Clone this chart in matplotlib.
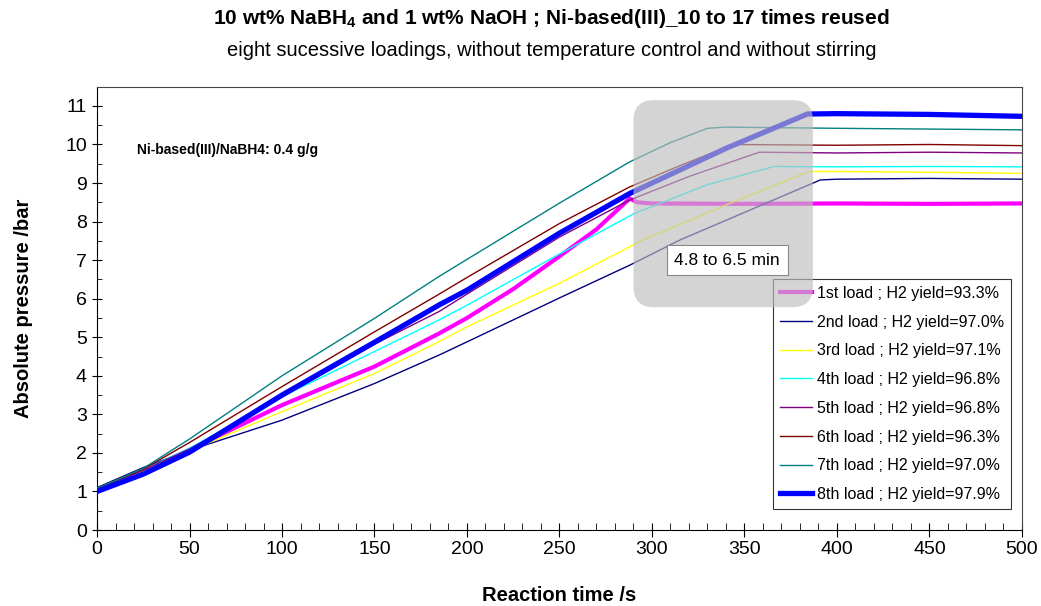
import numpy as np
import matplotlib
matplotlib.use('Agg')
import matplotlib.pyplot as plt
from matplotlib.patches import FancyBboxPatch
from matplotlib.ticker import MultipleLocator

plt.rcParams['font.family'] = ['Liberation Sans', 'DejaVu Sans']
plt.rcParams['mathtext.fontset'] = 'custom'
plt.rcParams['mathtext.rm'] = 'Liberation Sans'
plt.rcParams['mathtext.bf'] = 'Liberation Sans:bold'

# pressure (bar) vs reaction time (s)
t1 = [0, 25, 50, 100, 150, 185, 200, 225, 250, 270, 288, 292, 300, 350, 400, 450, 500]
p1 = [1.05, 1.52, 2.08, 3.24, 4.24, 5.10, 5.50, 6.25, 7.10, 7.80, 8.60, 8.50, 8.47, 8.46, 8.47, 8.46, 8.47]

t2 = [0, 25, 50, 100, 150, 185, 200, 250, 288, 315, 391, 400, 450, 500]
p2 = [1.10, 1.62, 2.07, 2.85, 3.80, 4.54, 4.88, 6.02, 6.87, 7.52, 9.08, 9.10, 9.12, 9.10]

t3 = [0, 25, 50, 100, 150, 185, 200, 250, 295, 340, 385, 400, 450, 500]
p3 = [1.07, 1.52, 2.05, 3.07, 4.06, 4.89, 5.27, 6.40, 7.52, 8.43, 9.30, 9.30, 9.28, 9.25]

t4 = [0, 25, 50, 100, 150, 185, 200, 250, 290, 330, 366, 400, 450, 500]
p4 = [1.08, 1.56, 2.12, 3.46, 4.63, 5.45, 5.83, 7.16, 8.20, 8.96, 9.43, 9.42, 9.43, 9.42]

t5 = [0, 25, 50, 100, 150, 185, 200, 250, 288, 320, 358, 400, 450, 500]
p5 = [1.07, 1.55, 2.10, 3.45, 4.82, 5.67, 6.12, 7.60, 8.56, 9.17, 9.80, 9.78, 9.80, 9.78]

t6 = [0, 25, 50, 100, 150, 185, 200, 250, 288, 315, 344, 400, 450, 500]
p6 = [1.08, 1.58, 2.27, 3.72, 5.14, 6.12, 6.55, 7.95, 8.90, 9.45, 10.00, 9.98, 10.00, 9.97]

t7 = [0, 25, 50, 100, 150, 185, 200, 250, 288, 310, 330, 340, 400, 450, 500]
p7 = [1.08, 1.60, 2.36, 4.00, 5.49, 6.58, 7.02, 8.48, 9.55, 10.05, 10.42, 10.45, 10.42, 10.40, 10.38]

t8 = [0, 25, 50, 100, 150, 185, 200, 250, 288, 340, 384, 400, 450, 500]
p8 = [1.00, 1.45, 2.02, 3.50, 4.87, 5.84, 6.22, 7.70, 8.73, 9.90, 10.79, 10.80, 10.78, 10.73]

labels = ['1st load ; H2 yield=93.3%', '2nd load ; H2 yield=97.0%',
          '3rd load ; H2 yield=97.1%', '4th load ; H2 yield=96.8%',
          '5th load ; H2 yield=96.8%', '6th load ; H2 yield=96.3%',
          '7th load ; H2 yield=97.0%', '8th load ; H2 yield=97.9%']

series = [(t1, p1), (t2, p2), (t3, p3), (t4, p4), (t5, p5), (t6, p6), (t7, p7), (t8, p8)]
colors = ['#FF00FF', '#000080', '#FFFF00', '#00FFFF', '#800080', '#800000', '#008080', '#0000FF']
widths = [3.0, 1.0, 1.0, 1.0, 1.0, 1.0, 1.0, 3.8]

fig = plt.figure(figsize=(10.41, 6.06), dpi=100)
ax = fig.add_axes([0.0932, 0.1254, 0.8885, 0.7316])

for (t, p), c, w, lab in zip(series, colors, widths, labels):
    ax.plot(t, p, color=c, lw=w, label=lab, zorder=3)

ax.set_xlim(0, 500)
ax.set_ylim(0, 11.5)
ax.xaxis.set_major_locator(MultipleLocator(50))
ax.xaxis.set_minor_locator(MultipleLocator(10))
ax.set_yticks(np.arange(0, 12, 1))
ax.yaxis.set_minor_locator(MultipleLocator(0.5))
ax.tick_params(axis='x', which='major', direction='inout', length=10, labelsize=14, pad=3)
ax.tick_params(axis='x', which='minor', direction='in', length=5)
ax.tick_params(axis='y', which='major', direction='inout', length=7.5, labelsize=14)
ax.tick_params(axis='y', which='minor', direction='in', length=3.6)
for s in ['top', 'right']:
    ax.spines[s].set_color('#444444')

ax.set_xlabel('Reaction time /s', fontsize=14.5, fontweight='bold')
ax.set_ylabel('Absolute pressure /bar', fontsize=14.5, fontweight='bold')
ax.xaxis.set_label_coords(0.5, -0.126)
ax.yaxis.set_label_coords(-0.069, 0.5)

leg = ax.legend(loc='lower right', bbox_to_anchor=(0.988, 0.047), fontsize=11.5,
                frameon=True, fancybox=False, edgecolor='black', handlelength=2.0,
                labelspacing=0.86, borderpad=0.45, handletextpad=0.3, borderaxespad=0)
leg.get_frame().set_linewidth(0.8)
leg.set_zorder(5)

# shaded window 4.8 - 6.5 min
box = FancyBboxPatch((290, 5.78), 97, 5.37,
                     boxstyle='round,pad=0,rounding_size=11',
                     mutation_aspect=1.85 / 38.55,
                     facecolor='#bdbdbd', edgecolor='none', alpha=0.65, zorder=6)
ax.add_patch(box)

ax.text(340.7, 7.0, '4.8 to 6.5 min', fontsize=12.5, ha='center', va='center', zorder=7,
        bbox=dict(boxstyle='square,pad=0.45', facecolor='white', edgecolor='#888888', lw=0.8))

ax.text(21.6, 9.86, 'Ni-based(III)/NaBH4: 0.4 g/g', fontsize=10, fontweight='bold',
        ha='left', va='center')

fig.text(0.530, 0.970, r'10 wt% NaBH$_\mathbf{4}$ and 1 wt% NaOH ; Ni-based(III)_10 to 17 times reused',
         fontsize=15, fontweight='bold', ha='center', va='center')
fig.text(0.530, 0.917, 'eight sucessive loadings, without temperature control and without stirring',
         fontsize=14.5, ha='center', va='center')

fig.savefig('out.png', dpi=100)
